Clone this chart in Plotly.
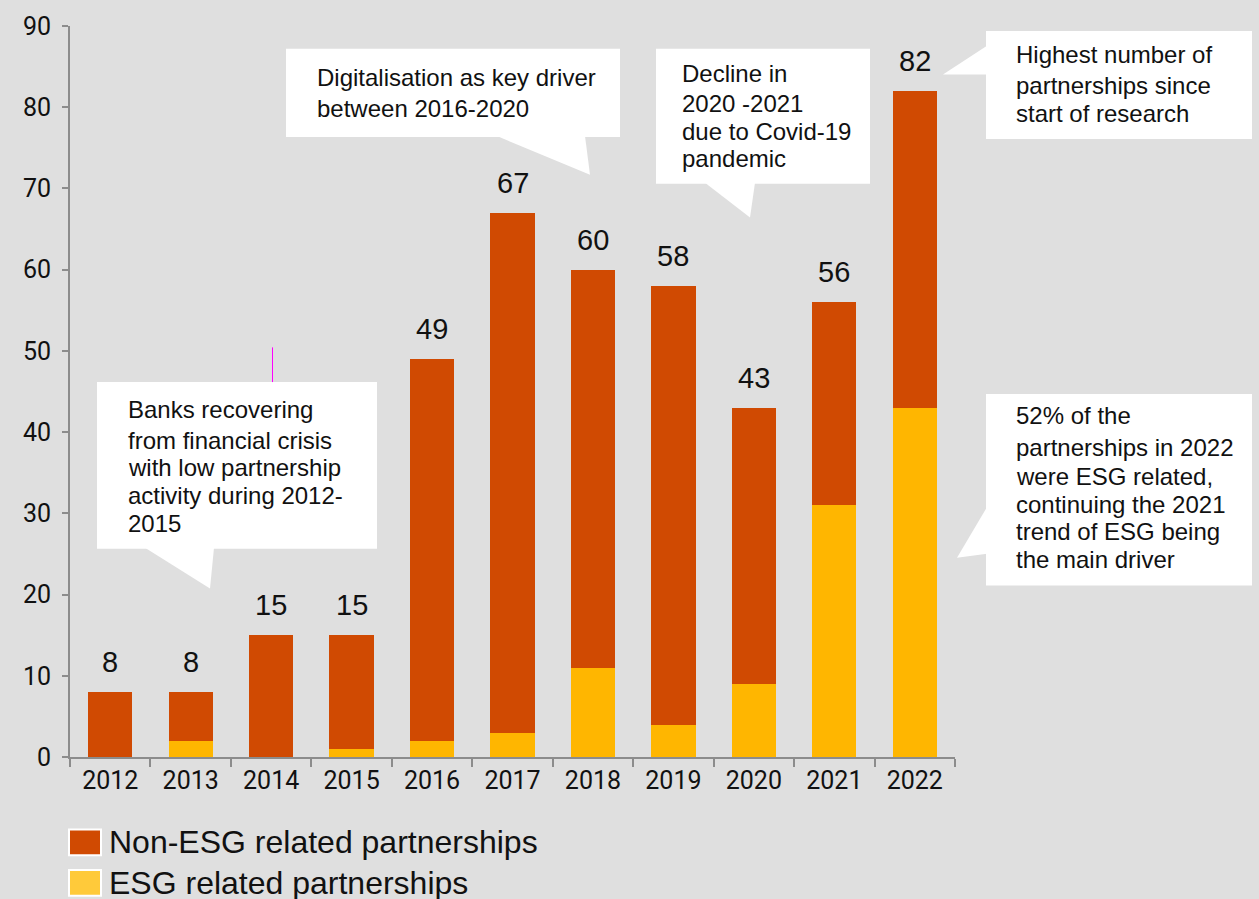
import plotly.graph_objects as go

# Partnership counts per year
years = ["2012", "2013", "2014", "2015", "2016", "2017", "2018", "2019", "2020", "2021", "2022"]
totals = [8, 8, 15, 15, 49, 67, 60, 58, 43, 56, 82]
esg = [0, 2, 0, 1, 2, 3, 11, 4, 9, 31, 43]
non_esg = [t - e for t, e in zip(totals, esg)]
y_ticks = [0, 10, 20, 30, 40, 50, 60, 70, 80, 90]

ORANGE = "#D04A02"
YELLOW = "#FFB600"
BG = "#DFDFDF"
AXIS = "#8C8C8C"

W, H = 1259, 899
L, R, T, B = 70, 304, 20, 142
PW, PH = W - L - R, H - T - B


def px(x):
    return (x - L) / PW


def py(y):
    return (H - B - y) / PH


fig = go.Figure()
fig.add_bar(x=years, y=esg, name="ESG related partnerships", marker_color=YELLOW,
            marker_line_width=0, showlegend=False)
fig.add_bar(x=years, y=non_esg, name="Non-ESG related partnerships", marker_color=ORANGE,
            marker_line_width=0, showlegend=False)

annotations = []
# total labels above each bar (category index positions)
for i, t in enumerate(totals):
    annotations.append(dict(x=i, y=t, xref="x", yref="y", text=str(t), showarrow=False,
                            yanchor="bottom", yshift=12,
                            font=dict(family="Liberation Sans, Arial", size=29, color="#111")))

shapes = []


def callout(box, tail, lines, x_text, ys, size=24):
    x0, y0, x1, y1 = box
    shapes.append(dict(type="rect", xref="paper", yref="paper",
                       x0=px(x0), x1=px(x1), y0=py(y1), y1=py(y0),
                       fillcolor="white", line_width=0, layer="above"))
    path = "M " + " L ".join(f"{px(a):.5f},{py(b):.5f}" for a, b in tail) + " Z"
    shapes.append(dict(type="path", xref="paper", yref="paper", path=path,
                       fillcolor="white", line_width=0, layer="above"))
    for txt, yy in zip(lines, ys):
        annotations.append(dict(x=px(x_text), y=py(yy), xref="paper", yref="paper",
                                text=txt, showarrow=False, xanchor="left", yanchor="middle",
                                font=dict(family="Liberation Sans, Arial", size=size, color="#111")))


callout((286, 43, 620, 132), [(497, 131), (585, 131), (590, 170)],
        ["Digitalisation as key driver", "between 2016-2020"], 315, [72, 103])
callout((656, 43, 870, 179), [(705, 178), (755, 178), (750, 213)],
        ["Decline in", "2020 -2021", "due to Covid-19", "pandemic"], 680, [68, 98, 126, 154])
callout((986, 25, 1252, 134), [(987, 40), (987, 69), (943, 69)],
        ["Highest number of", "partnerships since", "start of research"], 1014, [49, 80, 108])
callout((986, 391, 1252, 584), [(987, 505), (987, 552), (957, 556)],
        ["52% of the", "partnerships in 2022", "were ESG related,", "continuing the 2021",
         "trend of ESG being", "the main driver"], 1014, [413, 445, 474, 502, 530, 558])
callout((97, 379, 377, 547), [(145, 546), (214, 546), (210, 587)],
        ["Banks recovering", "from financial crisis", "with low partnership",
         "activity during 2012-", "2015"], 126, [407, 438, 465, 493, 522])

# thin magenta marker line
shapes.append(dict(type="line", xref="paper", yref="paper", x0=px(272.5), x1=px(272.5),
                   y0=py(379), y1=py(344), line=dict(color="#FF00FF", width=1), layer="above"))

# legend drawn as swatches with labels
legend_items = [("Non-ESG related partnerships", ORANGE, 843), ("ESG related partnerships", "#FFCA3A", 884)]
for label, col, cy in legend_items:
    shapes.append(dict(type="rect", xref="paper", yref="paper",
                       x0=px(69), x1=px(101), y0=py(cy + 13), y1=py(cy - 13),
                       fillcolor=col, line=dict(color="white", width=2)))
    annotations.append(dict(x=px(107), y=py(cy), xref="paper", yref="paper", text=label,
                            showarrow=False, xanchor="left", yanchor="middle",
                            font=dict(family="Liberation Sans, Arial", size=32, color="#111")))

fig.update_layout(
    barmode="stack",
    bargap=0.45,
    width=W, height=H,
    margin=dict(l=L, r=R, t=T, b=B, pad=0),
    paper_bgcolor=BG, plot_bgcolor=BG,
    showlegend=False,
    annotations=annotations,
    shapes=shapes,
    font=dict(family="Liberation Sans Narrow, Arial Narrow, Roboto", size=25, color="#111"),
    xaxis=dict(type="category", range=[-0.5, len(years) - 0.5], showline=True, linecolor=AXIS,
               linewidth=2, ticks="outside", tickson="boundaries", ticklen=8, tickwidth=2,
               tickcolor=AXIS, showgrid=False, zeroline=False, tickangle=0,
               tickfont=dict(size=25)),
    yaxis=dict(range=[0, 90], tickvals=y_ticks, showline=True, linecolor=AXIS, linewidth=2,
               ticks="outside", ticklen=6, tickwidth=2, tickcolor=AXIS, showgrid=False,
               zeroline=False, ticklabelstandoff=6, tickfont=dict(size=25)),
)

fig.write_html("out.html")
